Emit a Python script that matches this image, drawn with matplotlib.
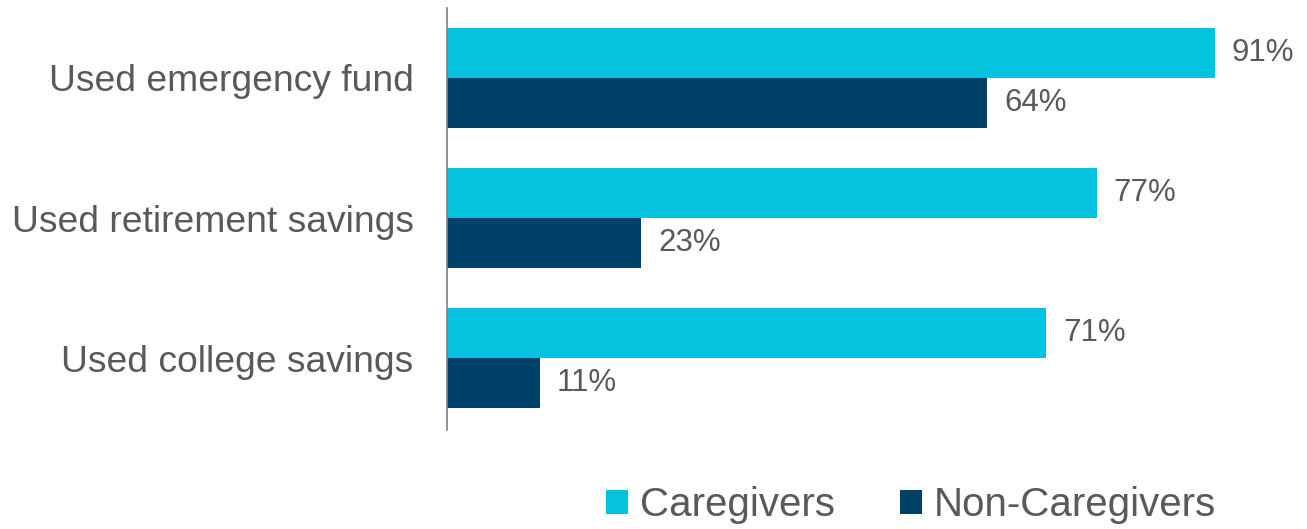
import matplotlib
matplotlib.use("Agg")
import matplotlib.pyplot as plt
import numpy as np

categories = ["Used emergency fund", "Used retirement savings", "Used college savings"]
caregivers = [91, 77, 71]
non_caregivers = [64, 23, 11]
series_names = ["Caregivers", "Non-Caregivers"]

cyan = "#05C3DE"
navy = "#00416A"
text_gray = "#595959"

plt.rcParams["font.family"] = ["Liberation Sans", "DejaVu Sans"]

fig = plt.figure(figsize=(13.07, 5.29), dpi=100)
ax = fig.add_axes([0.342, 0.187, 0.658, 0.798])

centers = np.arange(len(categories)) * 2.8 + 1.4
h = 1.0
b1 = ax.barh(centers - h / 2, caregivers, height=h, color=cyan, label=series_names[0])
b2 = ax.barh(centers + h / 2, non_caregivers, height=h, color=navy, label=series_names[1])

# value labels just past the bar ends
for bars, vals in ((b1, caregivers), (b2, non_caregivers)):
    for bar, v in zip(bars, vals):
        ax.text(v + 2.0, bar.get_y() + bar.get_height() / 2, f"{v}%",
                va="center", ha="left", fontsize=22.5, color=text_gray)

ax.set_xlim(0, 101.9)
ax.set_ylim(8.44, 0)
ax.set_yticks(centers)
ax.set_yticklabels(categories, fontsize=26.8, color=text_gray)
ax.tick_params(axis="y", length=0, pad=24)
ax.set_xticks([])
for s in ["top", "right", "bottom"]:
    ax.spines[s].set_visible(False)
ax.spines["left"].set_color("#7f7f7f")
ax.spines["left"].set_linewidth(1.2)

leg = fig.legend(handles=[b1, b2], loc="center", bbox_to_anchor=(0.697, 0.045),
                 ncol=2, frameon=False, fontsize=29, handlelength=0.55, handleheight=0.55,
                 handletextpad=0.3, columnspacing=1.6, labelcolor=text_gray)

fig.savefig("out.png", dpi=100)
